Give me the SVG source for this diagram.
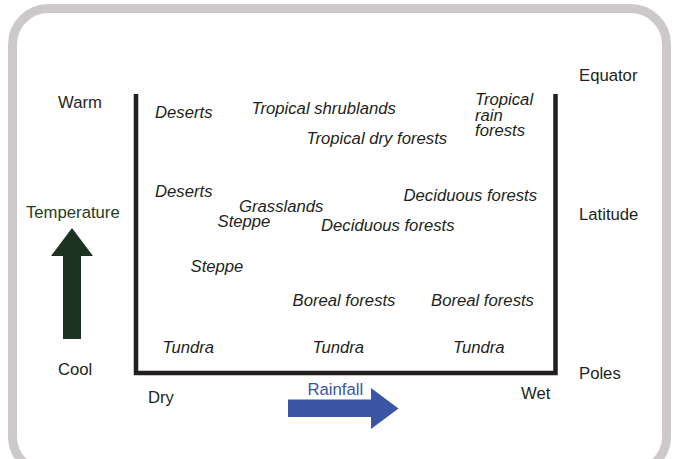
<svg xmlns="http://www.w3.org/2000/svg" width="678" height="459" viewBox="0 0 678 459">
<style>
.t{font-family:"Liberation Sans",Arial,sans-serif;font-size:16.7px;fill:#231f20}
.i{font-style:italic}
</style>
<rect width="678" height="459" fill="#fff"/>
<rect id="frame" x="12.5" y="8.5" width="654" height="464" rx="36" fill="none" stroke="#cdc9c9" stroke-width="9"/>
<g id="connectors">
<path id="axes" d="M136,94 V373 H555.5 V94" fill="none" stroke="#231f20" stroke-width="4.5"/>
<polygon id="temp-arrow" points="63,339 81,339 81,256 93,256 72,228 51,256 63,256" fill="#1b3320"/>
<polygon id="rain-arrow" points="288,399.5 371,399.5 371,388 398.5,408.5 371,429 371,417 288,417" fill="#3a55a3"/>
</g>
<g id="axis-labels">
<text class="t" x="58" y="108">Warm</text>
<text class="t" x="58" y="375">Cool</text>
<text class="t" x="26" y="218" style="fill:#1f3d22">Temperature</text>
<text class="t" x="148" y="402.5">Dry</text>
<text class="t" x="521" y="399">Wet</text>
<text class="t" x="307.5" y="395" style="fill:#3a55a3">Rainfall</text>
<text class="t" x="579" y="81">Equator</text>
<text class="t" x="579" y="220">Latitude</text>
<text class="t" x="579" y="378.5">Poles</text>
</g>
<g id="biomes">
<text id="n1" class="t i" x="155" y="117.5">Deserts</text>
<text id="n2" class="t i" x="251.5" y="114">Tropical shrublands</text>
<text id="n3" class="t i" x="306.5" y="144">Tropical dry forests</text>
<text id="n4" class="t i" x="475"><tspan x="475" y="105">Tropical</tspan><tspan x="475" y="120.5">rain</tspan><tspan x="475" y="136">forests</tspan></text>
<text id="n5" class="t i" x="155" y="196.5">Deserts</text>
<text id="n6" class="t i" x="239" y="211.5">Grasslands</text>
<text id="n7" class="t i" x="217.5" y="227">Steppe</text>
<text id="n8" class="t i" x="403.5" y="201">Deciduous forests</text>
<text id="n9" class="t i" x="321" y="230.5">Deciduous forests</text>
<text id="n10" class="t i" x="190.5" y="272">Steppe</text>
<text id="n11" class="t i" x="292.5" y="305.5">Boreal forests</text>
<text id="n12" class="t i" x="431" y="305.5">Boreal forests</text>
<text id="n13" class="t i" x="162.5" y="352.5">Tundra</text>
<text id="n14" class="t i" x="312.5" y="352.5">Tundra</text>
<text id="n15" class="t i" x="453" y="352.5">Tundra</text>
</g>
</svg>
